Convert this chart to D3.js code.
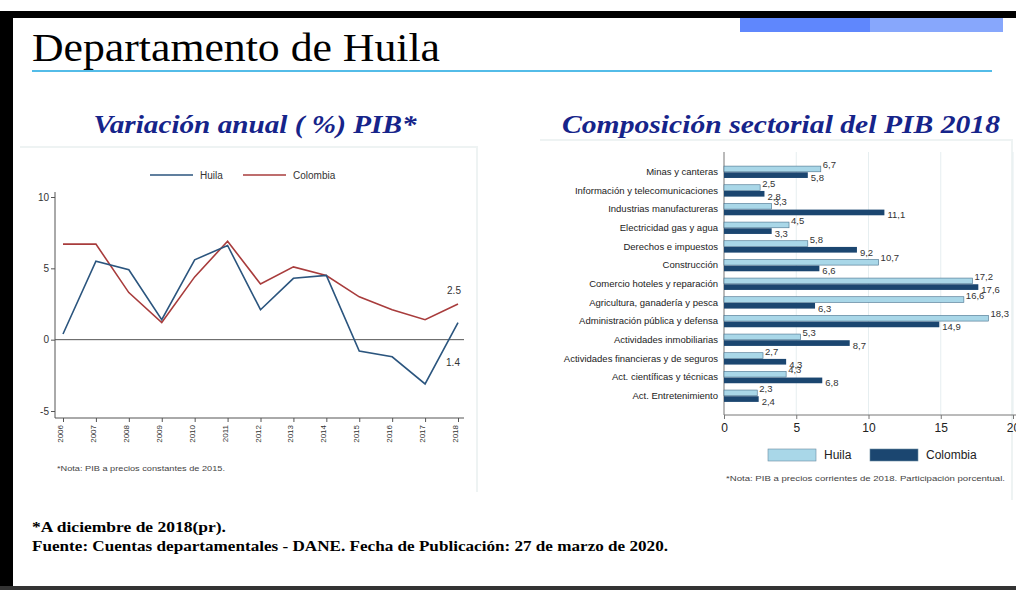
<!DOCTYPE html>
<html>
<head>
<meta charset="utf-8">
<script src="https://cdn.jsdelivr.net/npm/d3@7"></script>
<style>
  body { margin: 0; background: #fff; }
  svg { display: block; }
</style>
</head>
<body>
<div id="chart"></div>
<script>
// data: variación anual del PIB
const years = [2006, 2007, 2008, 2009, 2010, 2011, 2012, 2013, 2014, 2015, 2016, 2017, 2018];
const huilaVar = [0.4, 5.5, 4.9, 1.4, 5.6, 6.6, 2.1, 4.3, 4.5, -0.8, -1.2, -3.1, 1.2];
const colombiaVar = [6.7, 6.7, 3.3, 1.2, 4.4, 6.9, 3.9, 5.1, 4.5, 3.0, 2.1, 1.4, 2.5];
const yTicks = [-5, 0, 5, 10];

// data: composición sectorial 2018
const sectors = [
  "Minas y canteras",
  "Información y telecomunicaciones",
  "Industrias manufactureras",
  "Electricidad gas y agua",
  "Derechos e impuestos",
  "Construcción",
  "Comercio hoteles y reparación",
  "Agricultura, ganadería y pesca",
  "Administración pública y defensa",
  "Actividades inmobiliarias",
  "Actividades financieras y de seguros",
  "Act. científicas y técnicas",
  "Act. Entretenimiento",
];
const huilaShare = [6.7, 2.5, 3.3, 4.5, 5.8, 10.7, 17.2, 16.6, 18.3, 5.3, 2.7, 4.3, 2.3];
const colombiaShare = [5.8, 2.8, 11.1, 3.3, 9.2, 6.6, 17.6, 6.3, 14.9, 8.7, 4.3, 6.8, 2.4];
const xTicks = [0, 5, 10, 15, 20];

const huilaLine = "#2b557e";
const colombiaLine = "#a83c3c";
const huilaBar = "#a9d7e8";
const colombiaBar = "#1b4670";
const titleBlue = "#16248a";
const fmtComma = (v) => v.toFixed(1).replace(".", ",");
const serif = "'Liberation Serif', 'DejaVu Serif', serif";

const width = 1016;
const height = 590;

const svg = d3
  .select("#chart")
  .append("svg")
  .attr("width", width)
  .attr("height", height);

// slide frame
svg.append("rect").attr("x", 0).attr("y", 11).attr("width", width).attr("height", 7).attr("fill", "#000");
svg.append("rect").attr("x", 0).attr("y", 11).attr("width", 13).attr("height", height).attr("fill", "#000");
svg.append("rect").attr("x", 0).attr("y", 586).attr("width", width).attr("height", 4).attr("fill", "#333");
svg.append("rect").attr("x", 740).attr("y", 18).attr("width", 130).attr("height", 14).attr("fill", "#5f87fd");
svg.append("rect").attr("x", 870).attr("y", 18).attr("width", 133).attr("height", 14).attr("fill", "#87a7fc");

svg
  .append("text")
  .attr("x", 32)
  .attr("y", 61)
  .style("font-family", serif)
  .style("font-size", "40px")
  .attr("textLength", 408)
  .attr("lengthAdjust", "spacingAndGlyphs")
  .attr("fill", "#000")
  .text("Departamento de Huila");

svg.append("line").attr("x1", 32).attr("x2", 992).attr("y1", 71).attr("y2", 71)
  .attr("stroke", "#1aa6e0").attr("stroke-width", 1.5);

// panel titles
const panelTitle = (x, txt, len) =>
  svg
    .append("text")
    .attr("x", x)
    .attr("y", 133)
    .attr("text-anchor", "middle")
    .style("font-family", serif)
    .style("font-style", "italic")
    .style("font-weight", "bold")
    .style("font-size", "26px")
    .attr("textLength", len)
    .attr("lengthAdjust", "spacingAndGlyphs")
    .attr("fill", titleBlue)
    .text(txt);
panelTitle(255, "Variación anual ( %) PIB*", 323);
panelTitle(781, "Composición sectorial del PIB 2018", 438);

// faint panel borders
svg.append("path").attr("d", "M20,147 H477 V492").attr("fill", "none").attr("stroke", "#eef3f3").attr("stroke-width", 2);
svg.append("path").attr("d", "M540,140 H1012 V500").attr("fill", "none").attr("stroke", "#eef3f3").attr("stroke-width", 2);

// ---------- line chart ----------
const lineG = svg.append("g").style("font-family", "'Liberation Sans', Arial, sans-serif");

const xScale = d3.scalePoint().domain(years).range([63, 458]);
const yScale = d3.scaleLinear().domain([-5, 10]).range([411, 197]);

const yAxis = lineG
  .append("g")
  .attr("transform", "translate(55,0)")
  .call(d3.axisLeft(yScale).tickValues(yTicks).tickFormat((d) => String(d)).tickSize(4).tickPadding(2));
yAxis.select(".domain").attr("d", "M0,192V418").attr("stroke", "#555");
yAxis.selectAll(".tick line").attr("stroke", "#555");
yAxis.selectAll("text").style("font-size", "10px").attr("fill", "#333");

const xAxis = lineG
  .append("g")
  .attr("transform", "translate(0,418)")
  .call(d3.axisBottom(xScale).tickSize(4).tickPadding(3));
xAxis.select(".domain").attr("d", "M55,0H464").attr("stroke", "#555");
xAxis.selectAll(".tick line").attr("stroke", "#555");
xAxis
  .selectAll("text")
  .style("font-size", "8px")
  .attr("fill", "#333")
  .attr("transform", "rotate(-90)")
  .attr("text-anchor", "end")
  .attr("x", -7)
  .attr("y", -3)
  .attr("dy", "0.32em");

// zero line
lineG.append("line").attr("x1", 55).attr("x2", 464)
  .attr("y1", yScale(0)).attr("y2", yScale(0))
  .attr("stroke", "#555").attr("stroke-width", 1);

const line = d3
  .line()
  .x((d, i) => xScale(years[i]))
  .y((d) => yScale(d));

lineG.append("path").datum(colombiaVar).attr("d", line)
  .attr("fill", "none").attr("stroke", colombiaLine).attr("stroke-width", 1.6);
lineG.append("path").datum(huilaVar).attr("d", line)
  .attr("fill", "none").attr("stroke", huilaLine).attr("stroke-width", 1.6);

lineG.append("text").attr("x", 454).attr("y", yScale(colombiaVar[12]) - 10)
  .attr("text-anchor", "middle").style("font-size", "10px").attr("fill", "#333").text("2.5");
lineG.append("text").attr("x", 453).attr("y", 366)
  .attr("text-anchor", "middle").style("font-size", "10px").attr("fill", "#333").text("1.4");

// legend
const lineLegend = [
  { name: "Huila", color: huilaLine, x: 150 },
  { name: "Colombia", color: colombiaLine, x: 243 },
];
lineLegend.forEach((d) => {
  lineG.append("line").attr("x1", d.x).attr("x2", d.x + 43).attr("y1", 175).attr("y2", 175)
    .attr("stroke", d.color).attr("stroke-width", 1.6);
  lineG.append("text").attr("x", d.x + 50).attr("y", 175).attr("dy", "0.35em")
    .style("font-size", "10px").attr("fill", "#333").text(d.name);
});

lineG.append("text").attr("x", 57).attr("y", 471)
  .style("font-size", "8px").attr("textLength", 168).attr("lengthAdjust", "spacingAndGlyphs")
  .attr("fill", "#444").text("*Nota: PIB a precios constantes de 2015.");

// ---------- bar chart ----------
const barG = svg.append("g").style("font-family", "'Liberation Sans', Arial, sans-serif");

const bScale = d3.scaleLinear().domain([0, 20]).range([724, 1013]);
const cScale = d3.scaleBand().domain(sectors).range([162.7, 405.3]);
const sub = d3.scaleBand().domain(["Huila", "Colombia"]).range([0, cScale.bandwidth()]).paddingInner(0.08).paddingOuter(0.55);

// grid
barG.selectAll(".grid").data(xTicks.slice(1)).join("line")
  .attr("x1", (d) => bScale(d)).attr("x2", (d) => bScale(d))
  .attr("y1", 152).attr("y2", 415)
  .attr("stroke", "#e6eef0").attr("stroke-width", 1);

const bAxis = barG
  .append("g")
  .attr("transform", "translate(0,415)")
  .call(d3.axisBottom(bScale).tickValues(xTicks).tickSize(4).tickPadding(4));
bAxis.select(".domain").attr("d", "M724,0H1016").attr("stroke", "#777");
bAxis.selectAll(".tick line").attr("stroke", "#777");
bAxis.selectAll("text").style("font-size", "12px").attr("fill", "#222");

barG.append("line").attr("x1", 724).attr("x2", 724).attr("y1", 152).attr("y2", 415)
  .attr("stroke", "#777");

const cAxis = barG
  .append("g")
  .attr("transform", "translate(724,0)")
  .call(d3.axisLeft(cScale).tickSize(0).tickPadding(6));
cAxis.select(".domain").remove();
cAxis.selectAll("text").style("font-size", "9.5px").attr("fill", "#222");

const groups = barG.selectAll(".sector").data(sectors).join("g")
  .attr("transform", (d) => `translate(0,${cScale(d)})`);

groups.append("rect")
  .attr("x", bScale(0))
  .attr("y", sub("Huila"))
  .attr("width", (d, i) => bScale(huilaShare[i]) - bScale(0))
  .attr("height", sub.bandwidth())
  .attr("fill", huilaBar).attr("stroke", "#47708c").attr("stroke-width", 0.6);

groups.append("rect")
  .attr("x", bScale(0))
  .attr("y", sub("Colombia"))
  .attr("width", (d, i) => bScale(colombiaShare[i]) - bScale(0))
  .attr("height", sub.bandwidth())
  .attr("fill", colombiaBar);

groups.append("text")
  .attr("x", (d, i) => bScale(huilaShare[i]) + 2)
  .attr("y", sub("Huila") + 2)
  .style("font-size", "9.5px").attr("fill", "#333")
  .text((d, i) => fmtComma(huilaShare[i]));

groups.append("text")
  .attr("x", (d, i) => bScale(colombiaShare[i]) + 3)
  .attr("y", sub("Colombia") + sub.bandwidth() + 3)
  .style("font-size", "9.5px").attr("fill", "#333")
  .text((d, i) => fmtComma(colombiaShare[i]));

// legend
const barLegend = [
  { name: "Huila", color: huilaBar, x: 768 },
  { name: "Colombia", color: colombiaBar, x: 870 },
];
barLegend.forEach((d) => {
  barG.append("rect").attr("x", d.x).attr("y", 449).attr("width", 48).attr("height", 12)
    .attr("fill", d.color).attr("stroke", "#6a8aa0").attr("stroke-width", 0.6);
  barG.append("text").attr("x", d.x + 56).attr("y", 455).attr("dy", "0.35em")
    .style("font-size", "12px").attr("fill", "#222").text(d.name);
});

barG.append("text").attr("x", 726).attr("y", 481)
  .style("font-size", "8px").attr("textLength", 279).attr("lengthAdjust", "spacingAndGlyphs")
  .attr("fill", "#444")
  .text("*Nota: PIB a precios corrientes de 2018. Participación porcentual.");

// footnotes
const foot = svg.append("g")
  .style("font-family", serif)
  .style("font-weight", "bold")
  .style("font-size", "15px").attr("fill", "#000");
foot.append("text").attr("x", 32).attr("y", 532)
  .attr("textLength", 194).attr("lengthAdjust", "spacingAndGlyphs")
  .text("*A diciembre de 2018(pr).");
foot.append("text").attr("x", 32).attr("y", 551)
  .attr("textLength", 636).attr("lengthAdjust", "spacingAndGlyphs")
  .text("Fuente: Cuentas departamentales - DANE. Fecha de Publicación: 27 de marzo de 2020.");
</script>
</body>
</html>
